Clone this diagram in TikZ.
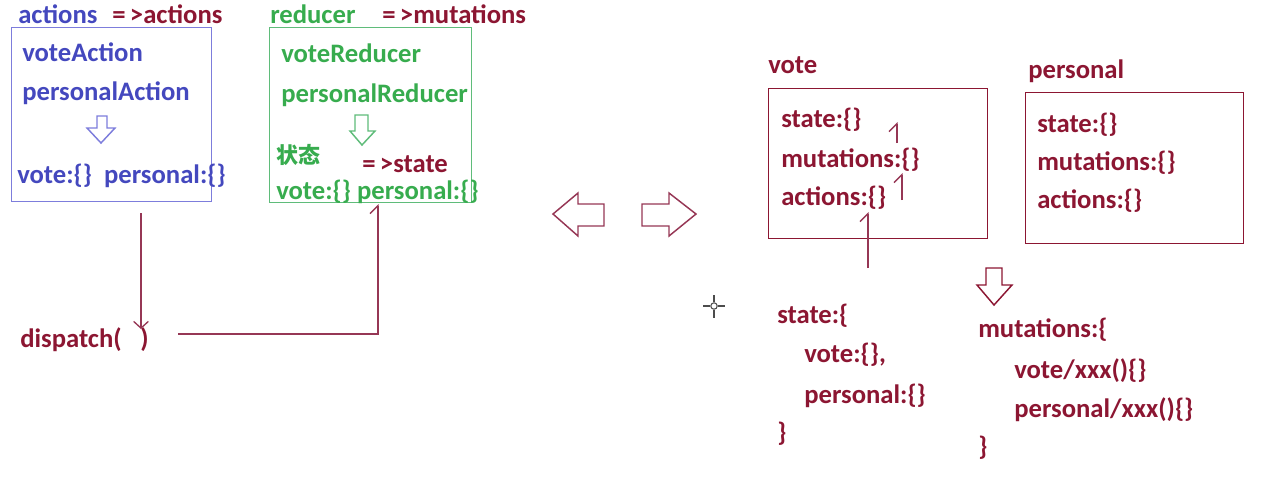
\documentclass[tikz,border=0pt]{standalone}
\usepackage{fontspec}
\setmainfont{Carlito}
\newfontfamily\cjk{Noto Sans CJK SC}
\usetikzlibrary{arrows.meta,positioning}

\definecolor{wine}{RGB}{140,22,50}
\definecolor{inkblue}{RGB}{68,72,190}
\definecolor{boxblue}{RGB}{125,125,220}
\definecolor{inkgreen}{RGB}{55,172,78}
\definecolor{boxgreen}{RGB}{95,188,122}
\definecolor{linered}{RGB}{150,55,85}

\begin{document}
\begin{tikzpicture}[
    x=0.75pt, y=-0.75pt,
    every node/.style={font=\fontsize{20}{24}\selectfont\bfseries, inner sep=0pt},
    txt/.style={anchor=base west},
    bluetxt/.style={txt, text=inkblue},
    greentxt/.style={txt, text=inkgreen},
    redtxt/.style={txt, text=wine},
    panel/.style={draw, line width=1.1pt, anchor=north west},
    hollow/.style={draw, line width=1.1pt, line join=miter, fill=white},
    link/.style={draw=linered, line width=1pt},
    barb/.style={link, -{Straight Barb[left, length=6pt, width=12pt]}},
    arrow/.style={link, -{Straight Barb[length=5pt, width=11pt]}}
  ]
    \useasboundingbox (0,0) rectangle (1264,476);

    % actions => actions
    \node[bluetxt] (acttitle) at (18,23) {actions};
    \node[redtxt] (actmap) at (112,23) {=\,>actions};
    \node[panel, draw=boxblue, minimum width=150pt, minimum height=130.5pt] (actbox) at (11,27) {};
    \node[bluetxt] (voteact) at (22,61) {voteAction};
    \node[bluetxt] (persact) at (22,100) {personalAction};
    \draw[hollow, draw=boxblue] (97,116) -- (107,116) -- (107,128) -- (115,128) -- (101,143) -- (87,128) -- (97,128) -- cycle;
    \node[bluetxt] (actstate) at (17,183) {vote:\{\}\ \ personal:\{\}};

    % reducer => mutations
    \node[greentxt] (redtitle) at (270,23) {reducer};
    \node[redtxt] (redmap) at (382,23) {=\,>mutations};
    \node[panel, draw=boxgreen, minimum width=151.5pt, minimum height=131.25pt] (redbox) at (269,27) {};
    \node[greentxt] (votered) at (281,62) {voteReducer};
    \node[greentxt] (persred) at (281,102) {personalReducer};
    \draw[hollow, draw=boxgreen] (355,115) -- (368,115) -- (368,131) -- (375,131) -- (362,145) -- (350,131) -- (355,131) -- cycle;
    \node[greentxt, font=\fontsize{16.5}{20}\cjk\bfseries] (zhuangtai) at (276,163) {状态};
    \node[redtxt] (statemap) at (362,172) {=\,>state};
    \node[greentxt] (redstate) at (276,199) {vote:\{\} personal:\{\}};

    % dispatch loop
    \node[redtxt] (dispatch) at (20,347) {dispatch(\hspace{14pt})};
    \coordinate (actout) at (141,213);
    \coordinate (dispin) at (141,329);
    \coordinate (dispout) at (178,334);
    \coordinate (redin) at (378,204);
    \draw[arrow] (actout) -- (dispin);
    \draw[barb] (dispout) -| (redin);

    % compare arrows
    \draw[hollow, draw=linered] (553,214) -- (578,193) -- (578,204) -- (604,204) -- (604,226) -- (578,226) -- (578,236) -- cycle;
    \draw[hollow, draw=linered] (642,204) -- (669,204) -- (669,193) -- (696,214) -- (669,236) -- (669,226) -- (642,226) -- cycle;

    % cursor
    \draw[black!70, line width=0.8pt] (703,306) -- (710,306) (718,306) -- (725,306)
      (714,295) -- (714,302) (714,310) -- (714,318);
    \draw[black!70, line width=0.8pt] (714,306) circle (3.2);

    % vote module
    \node[redtxt] (votetitle) at (768,73) {vote};
    \node[panel, draw=wine, minimum width=164.25pt, minimum height=112.5pt] (votebox) at (768,88) {};
    \node[redtxt] (vstate) at (781,127) {state:\{\}};
    \node[redtxt] (vmut) at (781,167) {mutations:\{\}};
    \node[redtxt] (vact) at (781,205) {actions:\{\}};
    \coordinate (m1a) at (897,143);
    \coordinate (m1b) at (897,122);
    \coordinate (m2a) at (902,200);
    \coordinate (m2b) at (902,173);
    \coordinate (m3a) at (868,268);
    \coordinate (m3b) at (868,212);
    \draw[barb] (m1a) -- (m1b);
    \draw[barb] (m2a) -- (m2b);
    \draw[barb] (m3a) -- (m3b);

    % personal module
    \node[redtxt] (perstitle) at (1028,78) {personal};
    \node[panel, draw=wine, minimum width=163.5pt, minimum height=113.25pt] (persbox) at (1025,92) {};
    \node[redtxt] (pstate) at (1037,132) {state:\{\}};
    \node[redtxt] (pmut) at (1037,170) {mutations:\{\}};
    \node[redtxt] (pact) at (1037,208) {actions:\{\}};
    \draw[hollow, draw=wine] (986,268) -- (1002,268) -- (1002,285) -- (1012,285) -- (994,305) -- (977,285) -- (986,285) -- cycle;

    % merged state
    \node[redtxt] (sopen) at (777,323) {state:\{};
    \node[redtxt] (svote) at (804,362) {vote:\{\},};
    \node[redtxt] (spers) at (804,403) {personal:\{\}};
    \node[redtxt] (sclose) at (777,441) {\}};

    % merged mutations
    \node[redtxt] (mopen) at (978,337) {mutations:\{};
    \node[redtxt] (mvote) at (1014,378) {vote/xxx()\{\}};
    \node[redtxt] (mpers) at (1014,417) {personal/xxx()\{\}};
    \node[redtxt] (mclose) at (978,455) {\}};
  \end{tikzpicture}
\end{document}
